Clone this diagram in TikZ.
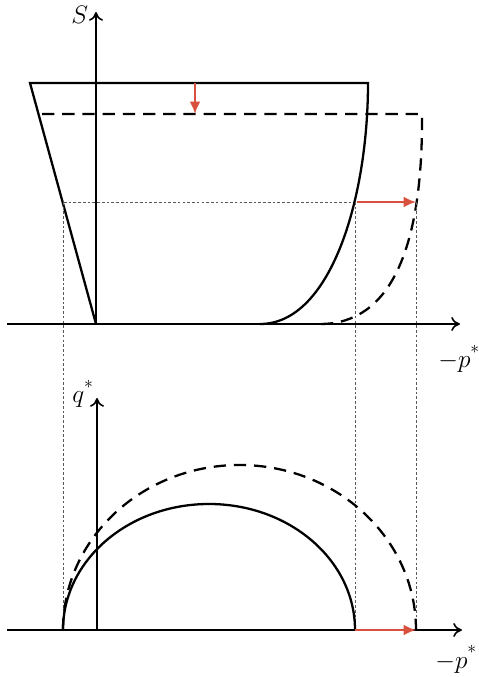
\documentclass[tikz,border=0pt]{standalone}
\usepackage{amsmath}
\usetikzlibrary{arrows.meta}
\definecolor{shiftred}{HTML}{D9503F}
\newcommand{\hstar}{^{\raisebox{3pt}{$\scriptstyle *$}}}

\begin{document}
\begin{tikzpicture}[x=0.02cm, y=0.02cm,
  axis/.style={line width=0.9pt, -{To[length=5pt, width=8pt]}},
  curve/.style={line width=1.3pt},
  trial/.style={line width=1.3pt, dash pattern=on 7pt off 4.5pt},
  guide/.style={line width=0.45pt, gray!70!black, dash pattern=on 1.5pt off 1.2pt},
  move/.style={line width=1.1pt, shiftred, -{Latex[length=7pt, width=6pt]}},
  axlabel/.style={font=\Large, inner sep=0pt, anchor=base west},
]
\useasboundingbox (0,0) rectangle (478,677);

% upper plot: S against -p*
\coordinate (o1) at (96,353);
\coordinate (s-top) at (96,665);
\coordinate (x1-left) at (7,353);
\coordinate (x1-right) at (460,353);
\draw[axis] (x1-left) -- (x1-right);
\draw[axis] (o1) -- (s-top);
\node[axlabel] (s-lab) at (71,653) {$S$};
\node[axlabel] (p1-lab) at (438,309) {$-p\hstar$};

\draw[guide] (64,475) -- (357,475);
\draw[curve] (96,353) -- (30,594) -- (368,594)
  .. controls (368,477) and (330,353) .. (260,353);
\draw[trial] (42,563) -- (422,563)
  .. controls (423,427) and (390,353) .. (320,353);
\draw[move] (195,594) -- (195,563);
\draw[move] (357,475) -- (416,475);

% lower plot: q* against -p*
\coordinate (o2) at (97,47);
\coordinate (q-top) at (97,279);
\coordinate (x2-left) at (7,47);
\coordinate (x2-right) at (462,47);
\draw[guide] (63,475) -- (63,47);
\draw[guide] (355,475) -- (355,47);
\draw[guide] (416,475) -- (416,47);
\draw[axis] (x2-left) -- (x2-right);
\draw[axis] (o2) -- (q-top);
\node[axlabel] (q-lab) at (72,274) {$q\hstar$};
\node[axlabel] (p2-lab) at (435,9) {$-p\hstar$};

\draw[curve] (63,47) arc[start angle=180, end angle=0, x radius=146, y radius=126];
\draw[trial] (63,47) arc[start angle=180, end angle=0, x radius=176.5, y radius=165];
\draw[move] (355,47) -- (416,47);

\end{tikzpicture}
\end{document}
